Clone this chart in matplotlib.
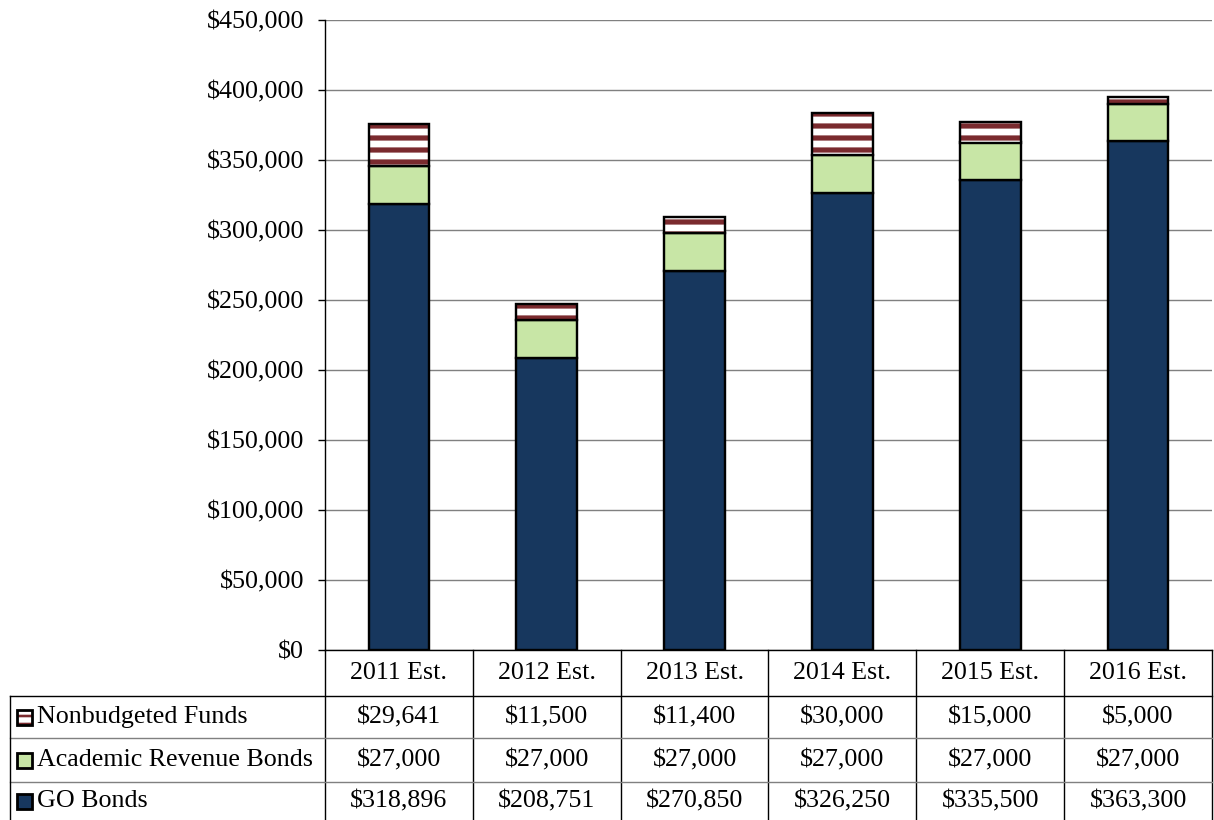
import matplotlib
matplotlib.use("Agg")
import matplotlib.pyplot as plt
from matplotlib.patches import Rectangle
from matplotlib.transforms import blended_transform_factory
from matplotlib.lines import Line2D

categories = ["2011 Est.", "2012 Est.", "2013 Est.", "2014 Est.", "2015 Est.", "2016 Est."]
go_bonds = [318896, 208751, 270850, 326250, 335500, 363300]
academic = [27000, 27000, 27000, 27000, 27000, 27000]
nonbudgeted = [29641, 11500, 11400, 30000, 15000, 5000]
series_names = ["Nonbudgeted Funds", "Academic Revenue Bonds", "GO Bonds"]
yticks = [0, 50000, 100000, 150000, 200000, 250000, 300000, 350000, 400000, 450000]

DPI = 144
W, H = 1214, 820
plt.rcParams['font.family'] = ['Liberation Serif', 'DejaVu Serif']
plt.rcParams['hatch.linewidth'] = 2.6
FS = 13

navy = '#17375E'
green = '#C8E6A6'
red = '#7A2A2E'

fig = plt.figure(figsize=(W / DPI, H / DPI), dpi=DPI)
ax_l, ax_r, ax_t, ax_b = 325, 1212, 20, 650
ax = fig.add_axes([ax_l / W, (H - ax_b) / H, (ax_r - ax_l) / W, (ax_b - ax_t) / H])

x = list(range(len(categories)))
bw = 0.41
ax.bar(x, go_bonds, width=bw, color=navy, edgecolor='black', linewidth=1.2, zorder=3)
bottom2 = go_bonds
ax.bar(x, academic, width=bw, bottom=bottom2, color=green, edgecolor='black', linewidth=1.2, zorder=3)
bottom3 = [a + b for a, b in zip(go_bonds, academic)]
# striped fill (red hatch), then black outline on top
ax.bar(x, nonbudgeted, width=bw, bottom=bottom3, color='white', edgecolor=red,
       hatch='--', linewidth=0, zorder=3)
ax.bar(x, nonbudgeted, width=bw, bottom=bottom3, fill=False, edgecolor='black',
       linewidth=1.2, zorder=4)

ax.set_xlim(-0.5, len(categories) - 0.5)
ax.set_ylim(0, 450000)
ax.set_yticks(yticks)
ax.set_yticklabels(["${:,}".format(v) for v in yticks], fontsize=FS)
ax.yaxis.grid(True, color='#808080', linewidth=0.7)
ax.set_axisbelow(True)
ax.set_xticks([])
for s in ['top', 'right']:
    ax.spines[s].set_visible(False)
ax.spines['left'].set_linewidth(0.7)
ax.spines['bottom'].set_linewidth(0.7)
ax.tick_params(axis='y', length=3.5, width=0.7, pad=7, colors='black')

# Table below
trans = blended_transform_factory(ax.transData, fig.transFigure)
ftrans = fig.transFigure

def fy(py):
    return (H - py) / H

def fx(px):
    return px / W

row_lines = [650, 696, 738, 782, 820]
rows = [nonbudgeted, academic, go_bonds]
colors_key = ['white', green, navy]

# header row labels
for i, c in enumerate(categories):
    ax.text(i, fy((row_lines[0] + row_lines[1]) / 2), c, transform=trans, ha='center',
            va='center', fontsize=FS, clip_on=False)

plt.rcParams['hatch.linewidth'] = 1.3
for r, vals in enumerate(rows):
    yc = fy((row_lines[r + 1] + row_lines[r + 2]) / 2)
    for i, v in enumerate(vals):
        ax.text(i, yc, "${:,}".format(v), transform=trans, ha='center', va='center',
                fontsize=FS, clip_on=False)
    # legend key
    kx, kw, kh = 17, 15, 15
    ky = (row_lines[r + 1] + row_lines[r + 2]) / 2
    if r == 0:
        fig.add_artist(Rectangle((fx(kx), fy(ky + kh / 2)), kw / W, kh / H, transform=ftrans,
                                 facecolor='white', edgecolor=red, linewidth=0, hatch='---'))
        fig.add_artist(Rectangle((fx(kx), fy(ky + kh / 2)), kw / W, kh / H, transform=ftrans,
                                 fill=False, edgecolor='black', linewidth=1.4))
    else:
        fig.add_artist(Rectangle((fx(kx), fy(ky + kh / 2)), kw / W, kh / H, transform=ftrans,
                                 facecolor=colors_key[r], edgecolor='black', linewidth=1.4))
    fig.text(fx(kx + kw + 5), yc, series_names[r], ha='left', va='center', fontsize=FS)

# horizontal table lines
fig.add_artist(Line2D([fx(10), fx(1212)], [fy(696), fy(696)], transform=ftrans, color='black', lw=0.7))
fig.add_artist(Line2D([fx(10), fx(1212)], [fy(738), fy(738)], transform=ftrans, color='#808080', lw=0.7))
fig.add_artist(Line2D([fx(10), fx(1212)], [fy(782), fy(782)], transform=ftrans, color='#808080', lw=0.7))
# vertical lines
fig.add_artist(Line2D([fx(10), fx(10)], [fy(696), fy(820)], transform=ftrans, color='black', lw=0.7))
for i in range(len(categories) + 1):
    xv = i - 0.5
    ax.add_line(Line2D([xv, xv], [fy(650), fy(820)], transform=trans, color='black', lw=0.7, clip_on=False))

fig.savefig("out.png", dpi=DPI)
